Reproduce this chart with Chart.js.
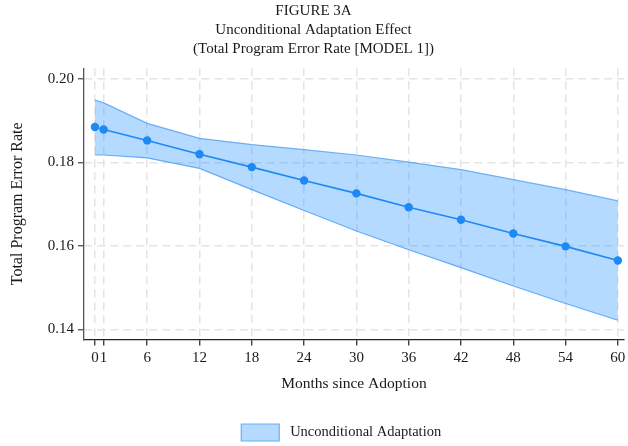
<!DOCTYPE html>
<html>
<head>
<meta charset="utf-8">
<script src="https://cdn.jsdelivr.net/npm/chart.js@4/dist/chart.umd.min.js"></script>
<style>
  html, body { margin: 0; padding: 0; background: #fff; }
  #wrap { width: 628px; height: 446px; }
</style>
</head>
<body>
<div id="wrap"><canvas id="fig3a"></canvas></div>
<script>
const months = [0, 1, 6, 12, 18, 24, 30, 36, 42, 48, 54, 60];
const error_rate = [0.1885, 0.1879, 0.1853, 0.1820, 0.1789, 0.1757, 0.1726, 0.1693, 0.1663, 0.1630, 0.1599, 0.1565];
const ci_upper = [0.1950, 0.1943, 0.1894, 0.1858, 0.1843, 0.1831, 0.1818, 0.1801, 0.1783, 0.1759, 0.1735, 0.1708];
const ci_lower = [0.1818, 0.1818, 0.1811, 0.1786, 0.1735, 0.1685, 0.1636, 0.1591, 0.1548, 0.1504, 0.1462, 0.1422];
const x_ticks = [0, 1, 6, 12, 18, 24, 30, 36, 42, 48, 54, 60];
const y_ticks = [0.14, 0.16, 0.18, 0.20];
const title_lines = ['FIGURE 3A', 'Unconditional Adaptation Effect', '(Total Program Error Rate [MODEL 1])'];

const serif = "'Liberation Serif', 'DejaVu Serif', serif";
const line_blue = '#1e88f5';
const band_fill = 'rgba(30, 144, 255, 0.33)';
const band_edge = 'rgba(90, 165, 245, 0.85)';
const grid_grey = '#e4e4e4';

function points(ys) {
    return months.map((m, i) => ({ x: m, y: ys[i] }));
}

new Chart(document.getElementById('fig3a'), {
    type: 'line',
    data: {
        datasets: [{
            // spaces pad the legend entry so it sits a little left of the plot centre
            label: ' Unconditional Adaptation       ',
            data: points(ci_upper),
            borderColor: band_edge,
            backgroundColor: band_fill,
            borderWidth: 1.2,
            pointRadius: 0,
            fill: '+1',
            order: 2
        }, {
            label: 'lower',
            data: points(ci_lower),
            borderColor: band_edge,
            backgroundColor: band_fill,
            borderWidth: 1.2,
            pointRadius: 0,
            fill: false,
            order: 2
        }, {
            label: 'Total Program Error Rate',
            data: points(error_rate),
            borderColor: line_blue,
            backgroundColor: line_blue,
            borderWidth: 1.6,
            pointRadius: 4.2,
            pointHoverRadius: 4.2,
            pointBorderWidth: 0,
            fill: false,
            order: 1
        }]
    },
    options: {
        responsive: true,
        maintainAspectRatio: false,
        animation: false,
        layout: { padding: { top: 0, right: 1, bottom: -5, left: 0 } },
        plugins: {
            title: {
                display: true,
                text: title_lines,
                color: '#1a1a1a',
                font: { family: serif, size: 15, weight: 'normal', lineHeight: 1.25 },
                padding: { top: 2, bottom: 10 }
            },
            legend: {
                display: true,
                position: 'bottom',
                fullSize: false,
                labels: {
                    filter: item => item.datasetIndex === 0,
                    boxWidth: 38,
                    boxHeight: 17,
                    padding: 2,
                    color: '#1a1a1a',
                    font: { family: serif, size: 14.5 }
                }
            },
            tooltip: { enabled: false }
        },
        scales: {
            x: {
                type: 'linear',
                min: -1.25,
                max: 60.68,
                afterBuildTicks: axis => { axis.ticks = x_ticks.map(v => ({ value: v })); },
                afterFit: axis => { axis.paddingLeft = 0; axis.paddingRight = 0; },
                ticks: {
                    autoSkip: false,
                    maxRotation: 0,
                    padding: 4,
                    color: '#1a1a1a',
                    font: { family: serif, size: 15 },
                    callback: v => String(v)
                },
                grid: {
                    color: grid_grey,
                    lineWidth: 1.5,
                    tickColor: '#222',
                    tickLength: 6,
                    tickWidth: 1.2
                },
                border: { display: true, color: '#222', width: 1.3, dash: [8, 5] },
                title: {
                    display: true,
                    text: 'Months since Adoption',
                    color: '#1a1a1a',
                    font: { family: serif, size: 15.5 },
                    padding: { top: 3, bottom: 29 }
                }
            },
            y: {
                min: 0.1376,
                max: 0.2026,
                afterBuildTicks: axis => { axis.ticks = y_ticks.map(v => ({ value: v })); },
                afterFit: axis => { axis.width = 84; },
                ticks: {
                    padding: 4,
                    color: '#1a1a1a',
                    font: { family: serif, size: 15 },
                    callback: v => v.toFixed(2)
                },
                grid: {
                    color: grid_grey,
                    lineWidth: 1.5,
                    tickColor: '#444',
                    tickLength: 6,
                    tickWidth: 1.2
                },
                border: { display: true, color: '#555', width: 1.3, dash: [8, 5] },
                title: {
                    display: true,
                    text: 'Total Program Error Rate',
                    color: '#1a1a1a',
                    font: { family: serif, size: 16 },
                    padding: { top: 8, bottom: 4 }
                }
            }
        }
    }
});
</script>
</body>
</html>
